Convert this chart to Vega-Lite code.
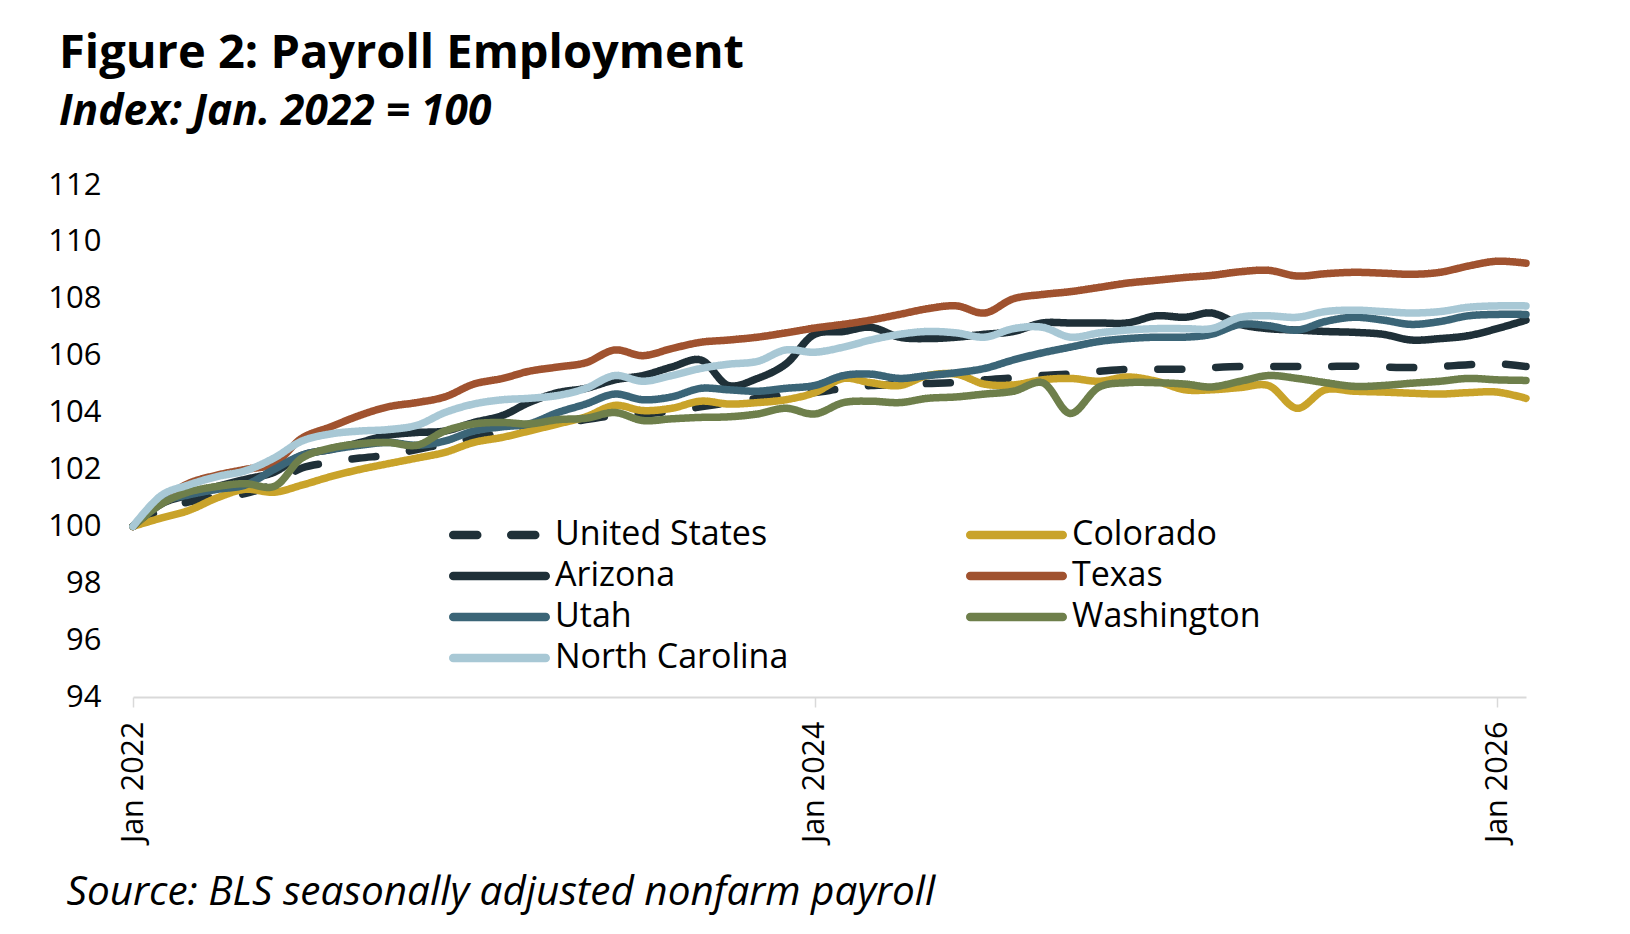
{
  "$schema": "https://vega.github.io/schema/vega-lite/v6.json",
  "width": 1393,
  "height": 512,
  "autosize": {"type": "none"},
  "padding": {"left": 133, "top": 185, "right": 104, "bottom": 237},
  "background": "white",
  "title": {
    "text": "Figure 2: Payroll Employment",
    "subtitle": "Index: Jan. 2022 = 100",
    "anchor": "start",
    "frame": "group",
    "dx": -74,
    "offset": 35,
    "font": "Open Sans",
    "fontSize": 47,
    "fontWeight": "bold",
    "color": "#000000",
    "subtitleFont": "Open Sans",
    "subtitleFontSize": 42.5,
    "subtitleFontWeight": "bold",
    "subtitleFontStyle": "italic",
    "subtitleColor": "#000000",
    "subtitlePadding": 13
  },
  "config": {
    "view": {"stroke": null},
    "font": "Open Sans"
  },
  "data": {
    "values": [
      {"series":"United States","date":"2022-01-01","value":100.0},
      {"series":"United States","date":"2022-02-01","value":100.6},
      {"series":"United States","date":"2022-03-01","value":100.85},
      {"series":"United States","date":"2022-04-01","value":101.05},
      {"series":"United States","date":"2022-05-01","value":101.15},
      {"series":"United States","date":"2022-06-01","value":101.5},
      {"series":"United States","date":"2022-07-01","value":102.05},
      {"series":"United States","date":"2022-08-01","value":102.25},
      {"series":"United States","date":"2022-09-01","value":102.4},
      {"series":"United States","date":"2022-10-01","value":102.5},
      {"series":"United States","date":"2022-11-01","value":102.7},
      {"series":"United States","date":"2022-12-01","value":102.9},
      {"series":"United States","date":"2023-01-01","value":103.1},
      {"series":"United States","date":"2023-02-01","value":103.3},
      {"series":"United States","date":"2023-03-01","value":103.45},
      {"series":"United States","date":"2023-04-01","value":103.6},
      {"series":"United States","date":"2023-05-01","value":103.75},
      {"series":"United States","date":"2023-06-01","value":103.9},
      {"series":"United States","date":"2023-07-01","value":103.95},
      {"series":"United States","date":"2023-08-01","value":104.05},
      {"series":"United States","date":"2023-09-01","value":104.2},
      {"series":"United States","date":"2023-10-01","value":104.35},
      {"series":"United States","date":"2023-11-01","value":104.5},
      {"series":"United States","date":"2023-12-01","value":104.6},
      {"series":"United States","date":"2024-01-01","value":104.7},
      {"series":"United States","date":"2024-02-01","value":104.85},
      {"series":"United States","date":"2024-03-01","value":104.95},
      {"series":"United States","date":"2024-04-01","value":104.98},
      {"series":"United States","date":"2024-05-01","value":105.02},
      {"series":"United States","date":"2024-06-01","value":105.06},
      {"series":"United States","date":"2024-07-01","value":105.15},
      {"series":"United States","date":"2024-08-01","value":105.22},
      {"series":"United States","date":"2024-09-01","value":105.3},
      {"series":"United States","date":"2024-10-01","value":105.36},
      {"series":"United States","date":"2024-11-01","value":105.45},
      {"series":"United States","date":"2024-12-01","value":105.52},
      {"series":"United States","date":"2025-01-01","value":105.52},
      {"series":"United States","date":"2025-02-01","value":105.53},
      {"series":"United States","date":"2025-03-01","value":105.58},
      {"series":"United States","date":"2025-04-01","value":105.62},
      {"series":"United States","date":"2025-05-01","value":105.62},
      {"series":"United States","date":"2025-06-01","value":105.62},
      {"series":"United States","date":"2025-07-01","value":105.62},
      {"series":"United States","date":"2025-08-01","value":105.63},
      {"series":"United States","date":"2025-09-01","value":105.6},
      {"series":"United States","date":"2025-10-01","value":105.58},
      {"series":"United States","date":"2025-11-01","value":105.62},
      {"series":"United States","date":"2025-12-01","value":105.68},
      {"series":"United States","date":"2026-01-01","value":105.72},
      {"series":"United States","date":"2026-02-01","value":105.62},

      {"series":"Colorado","date":"2022-01-01","value":100.0},
      {"series":"Colorado","date":"2022-02-01","value":100.3},
      {"series":"Colorado","date":"2022-03-01","value":100.55},
      {"series":"Colorado","date":"2022-04-01","value":101.0},
      {"series":"Colorado","date":"2022-05-01","value":101.3},
      {"series":"Colorado","date":"2022-06-01","value":101.2},
      {"series":"Colorado","date":"2022-07-01","value":101.45},
      {"series":"Colorado","date":"2022-08-01","value":101.75},
      {"series":"Colorado","date":"2022-09-01","value":102.0},
      {"series":"Colorado","date":"2022-10-01","value":102.2},
      {"series":"Colorado","date":"2022-11-01","value":102.4},
      {"series":"Colorado","date":"2022-12-01","value":102.6},
      {"series":"Colorado","date":"2023-01-01","value":102.95},
      {"series":"Colorado","date":"2023-02-01","value":103.13},
      {"series":"Colorado","date":"2023-03-01","value":103.35},
      {"series":"Colorado","date":"2023-04-01","value":103.6},
      {"series":"Colorado","date":"2023-05-01","value":103.85},
      {"series":"Colorado","date":"2023-06-01","value":104.25},
      {"series":"Colorado","date":"2023-07-01","value":104.07},
      {"series":"Colorado","date":"2023-08-01","value":104.15},
      {"series":"Colorado","date":"2023-09-01","value":104.4},
      {"series":"Colorado","date":"2023-10-01","value":104.3},
      {"series":"Colorado","date":"2023-11-01","value":104.35},
      {"series":"Colorado","date":"2023-12-01","value":104.45},
      {"series":"Colorado","date":"2024-01-01","value":104.7},
      {"series":"Colorado","date":"2024-02-01","value":105.2},
      {"series":"Colorado","date":"2024-03-01","value":105.05},
      {"series":"Colorado","date":"2024-04-01","value":104.95},
      {"series":"Colorado","date":"2024-05-01","value":105.3},
      {"series":"Colorado","date":"2024-06-01","value":105.35},
      {"series":"Colorado","date":"2024-07-01","value":105.0},
      {"series":"Colorado","date":"2024-08-01","value":104.97},
      {"series":"Colorado","date":"2024-09-01","value":105.15},
      {"series":"Colorado","date":"2024-10-01","value":105.2},
      {"series":"Colorado","date":"2024-11-01","value":105.1},
      {"series":"Colorado","date":"2024-12-01","value":105.25},
      {"series":"Colorado","date":"2025-01-01","value":105.1},
      {"series":"Colorado","date":"2025-02-01","value":104.8},
      {"series":"Colorado","date":"2025-03-01","value":104.8},
      {"series":"Colorado","date":"2025-04-01","value":104.88},
      {"series":"Colorado","date":"2025-05-01","value":104.95},
      {"series":"Colorado","date":"2025-06-01","value":104.15},
      {"series":"Colorado","date":"2025-07-01","value":104.8},
      {"series":"Colorado","date":"2025-08-01","value":104.75},
      {"series":"Colorado","date":"2025-09-01","value":104.72},
      {"series":"Colorado","date":"2025-10-01","value":104.68},
      {"series":"Colorado","date":"2025-11-01","value":104.65},
      {"series":"Colorado","date":"2025-12-01","value":104.7},
      {"series":"Colorado","date":"2026-01-01","value":104.72},
      {"series":"Colorado","date":"2026-02-01","value":104.5},

      {"series":"Arizona","date":"2022-01-01","value":100.0},
      {"series":"Arizona","date":"2022-02-01","value":100.8},
      {"series":"Arizona","date":"2022-03-01","value":101.1},
      {"series":"Arizona","date":"2022-04-01","value":101.4},
      {"series":"Arizona","date":"2022-05-01","value":101.65},
      {"series":"Arizona","date":"2022-06-01","value":101.9},
      {"series":"Arizona","date":"2022-07-01","value":102.5},
      {"series":"Arizona","date":"2022-08-01","value":102.7},
      {"series":"Arizona","date":"2022-09-01","value":102.95},
      {"series":"Arizona","date":"2022-10-01","value":103.2},
      {"series":"Arizona","date":"2022-11-01","value":103.3},
      {"series":"Arizona","date":"2022-12-01","value":103.35},
      {"series":"Arizona","date":"2023-01-01","value":103.65},
      {"series":"Arizona","date":"2023-02-01","value":103.9},
      {"series":"Arizona","date":"2023-03-01","value":104.35},
      {"series":"Arizona","date":"2023-04-01","value":104.7},
      {"series":"Arizona","date":"2023-05-01","value":104.85},
      {"series":"Arizona","date":"2023-06-01","value":105.15},
      {"series":"Arizona","date":"2023-07-01","value":105.3},
      {"series":"Arizona","date":"2023-08-01","value":105.6},
      {"series":"Arizona","date":"2023-09-01","value":105.85},
      {"series":"Arizona","date":"2023-10-01","value":104.95},
      {"series":"Arizona","date":"2023-11-01","value":105.2},
      {"series":"Arizona","date":"2023-12-01","value":105.7},
      {"series":"Arizona","date":"2024-01-01","value":106.75},
      {"series":"Arizona","date":"2024-02-01","value":106.85},
      {"series":"Arizona","date":"2024-03-01","value":107.0},
      {"series":"Arizona","date":"2024-04-01","value":106.65},
      {"series":"Arizona","date":"2024-05-01","value":106.6},
      {"series":"Arizona","date":"2024-06-01","value":106.65},
      {"series":"Arizona","date":"2024-07-01","value":106.75},
      {"series":"Arizona","date":"2024-08-01","value":106.85},
      {"series":"Arizona","date":"2024-09-01","value":107.15},
      {"series":"Arizona","date":"2024-10-01","value":107.15},
      {"series":"Arizona","date":"2024-11-01","value":107.15},
      {"series":"Arizona","date":"2024-12-01","value":107.15},
      {"series":"Arizona","date":"2025-01-01","value":107.4},
      {"series":"Arizona","date":"2025-02-01","value":107.35},
      {"series":"Arizona","date":"2025-03-01","value":107.5},
      {"series":"Arizona","date":"2025-04-01","value":107.1},
      {"series":"Arizona","date":"2025-05-01","value":106.95},
      {"series":"Arizona","date":"2025-06-01","value":106.9},
      {"series":"Arizona","date":"2025-07-01","value":106.85},
      {"series":"Arizona","date":"2025-08-01","value":106.82},
      {"series":"Arizona","date":"2025-09-01","value":106.75},
      {"series":"Arizona","date":"2025-10-01","value":106.55},
      {"series":"Arizona","date":"2025-11-01","value":106.6},
      {"series":"Arizona","date":"2025-12-01","value":106.7},
      {"series":"Arizona","date":"2026-01-01","value":106.95},
      {"series":"Arizona","date":"2026-02-01","value":107.25},

      {"series":"Texas","date":"2022-01-01","value":100.0},
      {"series":"Texas","date":"2022-02-01","value":100.9},
      {"series":"Texas","date":"2022-03-01","value":101.5},
      {"series":"Texas","date":"2022-04-01","value":101.8},
      {"series":"Texas","date":"2022-05-01","value":102.0},
      {"series":"Texas","date":"2022-06-01","value":102.2},
      {"series":"Texas","date":"2022-07-01","value":103.1},
      {"series":"Texas","date":"2022-08-01","value":103.5},
      {"series":"Texas","date":"2022-09-01","value":103.9},
      {"series":"Texas","date":"2022-10-01","value":104.2},
      {"series":"Texas","date":"2022-11-01","value":104.35},
      {"series":"Texas","date":"2022-12-01","value":104.55},
      {"series":"Texas","date":"2023-01-01","value":105.0},
      {"series":"Texas","date":"2023-02-01","value":105.2},
      {"series":"Texas","date":"2023-03-01","value":105.45},
      {"series":"Texas","date":"2023-04-01","value":105.6},
      {"series":"Texas","date":"2023-05-01","value":105.75},
      {"series":"Texas","date":"2023-06-01","value":106.2},
      {"series":"Texas","date":"2023-07-01","value":106.0},
      {"series":"Texas","date":"2023-08-01","value":106.25},
      {"series":"Texas","date":"2023-09-01","value":106.47},
      {"series":"Texas","date":"2023-10-01","value":106.55},
      {"series":"Texas","date":"2023-11-01","value":106.65},
      {"series":"Texas","date":"2023-12-01","value":106.8},
      {"series":"Texas","date":"2024-01-01","value":106.97},
      {"series":"Texas","date":"2024-02-01","value":107.1},
      {"series":"Texas","date":"2024-03-01","value":107.25},
      {"series":"Texas","date":"2024-04-01","value":107.45},
      {"series":"Texas","date":"2024-05-01","value":107.65},
      {"series":"Texas","date":"2024-06-01","value":107.75},
      {"series":"Texas","date":"2024-07-01","value":107.5},
      {"series":"Texas","date":"2024-08-01","value":108.0},
      {"series":"Texas","date":"2024-09-01","value":108.15},
      {"series":"Texas","date":"2024-10-01","value":108.25},
      {"series":"Texas","date":"2024-11-01","value":108.4},
      {"series":"Texas","date":"2024-12-01","value":108.55},
      {"series":"Texas","date":"2025-01-01","value":108.65},
      {"series":"Texas","date":"2025-02-01","value":108.75},
      {"series":"Texas","date":"2025-03-01","value":108.82},
      {"series":"Texas","date":"2025-04-01","value":108.95},
      {"series":"Texas","date":"2025-05-01","value":109.0},
      {"series":"Texas","date":"2025-06-01","value":108.8},
      {"series":"Texas","date":"2025-07-01","value":108.88},
      {"series":"Texas","date":"2025-08-01","value":108.93},
      {"series":"Texas","date":"2025-09-01","value":108.9},
      {"series":"Texas","date":"2025-10-01","value":108.86},
      {"series":"Texas","date":"2025-11-01","value":108.93},
      {"series":"Texas","date":"2025-12-01","value":109.15},
      {"series":"Texas","date":"2026-01-01","value":109.32},
      {"series":"Texas","date":"2026-02-01","value":109.25},

      {"series":"Utah","date":"2022-01-01","value":100.0},
      {"series":"Utah","date":"2022-02-01","value":100.85},
      {"series":"Utah","date":"2022-03-01","value":101.1},
      {"series":"Utah","date":"2022-04-01","value":101.3},
      {"series":"Utah","date":"2022-05-01","value":101.45},
      {"series":"Utah","date":"2022-06-01","value":102.0},
      {"series":"Utah","date":"2022-07-01","value":102.5},
      {"series":"Utah","date":"2022-08-01","value":102.7},
      {"series":"Utah","date":"2022-09-01","value":102.85},
      {"series":"Utah","date":"2022-10-01","value":102.95},
      {"series":"Utah","date":"2022-11-01","value":102.85},
      {"series":"Utah","date":"2022-12-01","value":103.0},
      {"series":"Utah","date":"2023-01-01","value":103.35},
      {"series":"Utah","date":"2023-02-01","value":103.5},
      {"series":"Utah","date":"2023-03-01","value":103.6},
      {"series":"Utah","date":"2023-04-01","value":104.0},
      {"series":"Utah","date":"2023-05-01","value":104.3},
      {"series":"Utah","date":"2023-06-01","value":104.65},
      {"series":"Utah","date":"2023-07-01","value":104.45},
      {"series":"Utah","date":"2023-08-01","value":104.55},
      {"series":"Utah","date":"2023-09-01","value":104.85},
      {"series":"Utah","date":"2023-10-01","value":104.8},
      {"series":"Utah","date":"2023-11-01","value":104.75},
      {"series":"Utah","date":"2023-12-01","value":104.85},
      {"series":"Utah","date":"2024-01-01","value":104.95},
      {"series":"Utah","date":"2024-02-01","value":105.3},
      {"series":"Utah","date":"2024-03-01","value":105.35},
      {"series":"Utah","date":"2024-04-01","value":105.2},
      {"series":"Utah","date":"2024-05-01","value":105.3},
      {"series":"Utah","date":"2024-06-01","value":105.4},
      {"series":"Utah","date":"2024-07-01","value":105.55},
      {"series":"Utah","date":"2024-08-01","value":105.85},
      {"series":"Utah","date":"2024-09-01","value":106.1},
      {"series":"Utah","date":"2024-10-01","value":106.3},
      {"series":"Utah","date":"2024-11-01","value":106.5},
      {"series":"Utah","date":"2024-12-01","value":106.6},
      {"series":"Utah","date":"2025-01-01","value":106.65},
      {"series":"Utah","date":"2025-02-01","value":106.65},
      {"series":"Utah","date":"2025-03-01","value":106.75},
      {"series":"Utah","date":"2025-04-01","value":107.1},
      {"series":"Utah","date":"2025-05-01","value":107.05},
      {"series":"Utah","date":"2025-06-01","value":106.9},
      {"series":"Utah","date":"2025-07-01","value":107.2},
      {"series":"Utah","date":"2025-08-01","value":107.35},
      {"series":"Utah","date":"2025-09-01","value":107.25},
      {"series":"Utah","date":"2025-10-01","value":107.1},
      {"series":"Utah","date":"2025-11-01","value":107.2},
      {"series":"Utah","date":"2025-12-01","value":107.4},
      {"series":"Utah","date":"2026-01-01","value":107.45},
      {"series":"Utah","date":"2026-02-01","value":107.45},

      {"series":"Washington","date":"2022-01-01","value":100.0},
      {"series":"Washington","date":"2022-02-01","value":100.8},
      {"series":"Washington","date":"2022-03-01","value":101.2},
      {"series":"Washington","date":"2022-04-01","value":101.4},
      {"series":"Washington","date":"2022-05-01","value":101.5},
      {"series":"Washington","date":"2022-06-01","value":101.4},
      {"series":"Washington","date":"2022-07-01","value":102.4},
      {"series":"Washington","date":"2022-08-01","value":102.75},
      {"series":"Washington","date":"2022-09-01","value":102.9},
      {"series":"Washington","date":"2022-10-01","value":102.95},
      {"series":"Washington","date":"2022-11-01","value":102.85},
      {"series":"Washington","date":"2022-12-01","value":103.35},
      {"series":"Washington","date":"2023-01-01","value":103.6},
      {"series":"Washington","date":"2023-02-01","value":103.65},
      {"series":"Washington","date":"2023-03-01","value":103.6},
      {"series":"Washington","date":"2023-04-01","value":103.75},
      {"series":"Washington","date":"2023-05-01","value":103.8},
      {"series":"Washington","date":"2023-06-01","value":104.0},
      {"series":"Washington","date":"2023-07-01","value":103.72},
      {"series":"Washington","date":"2023-08-01","value":103.78},
      {"series":"Washington","date":"2023-09-01","value":103.83},
      {"series":"Washington","date":"2023-10-01","value":103.85},
      {"series":"Washington","date":"2023-11-01","value":103.95},
      {"series":"Washington","date":"2023-12-01","value":104.15},
      {"series":"Washington","date":"2024-01-01","value":103.95},
      {"series":"Washington","date":"2024-02-01","value":104.35},
      {"series":"Washington","date":"2024-03-01","value":104.4},
      {"series":"Washington","date":"2024-04-01","value":104.35},
      {"series":"Washington","date":"2024-05-01","value":104.5},
      {"series":"Washington","date":"2024-06-01","value":104.55},
      {"series":"Washington","date":"2024-07-01","value":104.65},
      {"series":"Washington","date":"2024-08-01","value":104.75},
      {"series":"Washington","date":"2024-09-01","value":105.05},
      {"series":"Washington","date":"2024-10-01","value":103.97},
      {"series":"Washington","date":"2024-11-01","value":104.9},
      {"series":"Washington","date":"2024-12-01","value":105.05},
      {"series":"Washington","date":"2025-01-01","value":105.05},
      {"series":"Washington","date":"2025-02-01","value":105.0},
      {"series":"Washington","date":"2025-03-01","value":104.9},
      {"series":"Washington","date":"2025-04-01","value":105.1},
      {"series":"Washington","date":"2025-05-01","value":105.3},
      {"series":"Washington","date":"2025-06-01","value":105.2},
      {"series":"Washington","date":"2025-07-01","value":105.05},
      {"series":"Washington","date":"2025-08-01","value":104.92},
      {"series":"Washington","date":"2025-09-01","value":104.95},
      {"series":"Washington","date":"2025-10-01","value":105.03},
      {"series":"Washington","date":"2025-11-01","value":105.1},
      {"series":"Washington","date":"2025-12-01","value":105.2},
      {"series":"Washington","date":"2026-01-01","value":105.15},
      {"series":"Washington","date":"2026-02-01","value":105.13},

      {"series":"North Carolina","date":"2022-01-01","value":100.0},
      {"series":"North Carolina","date":"2022-02-01","value":101.1},
      {"series":"North Carolina","date":"2022-03-01","value":101.45},
      {"series":"North Carolina","date":"2022-04-01","value":101.75},
      {"series":"North Carolina","date":"2022-05-01","value":101.95},
      {"series":"North Carolina","date":"2022-06-01","value":102.4},
      {"series":"North Carolina","date":"2022-07-01","value":103.0},
      {"series":"North Carolina","date":"2022-08-01","value":103.25},
      {"series":"North Carolina","date":"2022-09-01","value":103.35},
      {"series":"North Carolina","date":"2022-10-01","value":103.4},
      {"series":"North Carolina","date":"2022-11-01","value":103.55},
      {"series":"North Carolina","date":"2022-12-01","value":104.0},
      {"series":"North Carolina","date":"2023-01-01","value":104.3},
      {"series":"North Carolina","date":"2023-02-01","value":104.45},
      {"series":"North Carolina","date":"2023-03-01","value":104.5},
      {"series":"North Carolina","date":"2023-04-01","value":104.6},
      {"series":"North Carolina","date":"2023-05-01","value":104.85},
      {"series":"North Carolina","date":"2023-06-01","value":105.3},
      {"series":"North Carolina","date":"2023-07-01","value":105.1},
      {"series":"North Carolina","date":"2023-08-01","value":105.3},
      {"series":"North Carolina","date":"2023-09-01","value":105.55},
      {"series":"North Carolina","date":"2023-10-01","value":105.7},
      {"series":"North Carolina","date":"2023-11-01","value":105.8},
      {"series":"North Carolina","date":"2023-12-01","value":106.2},
      {"series":"North Carolina","date":"2024-01-01","value":106.12},
      {"series":"North Carolina","date":"2024-02-01","value":106.3},
      {"series":"North Carolina","date":"2024-03-01","value":106.55},
      {"series":"North Carolina","date":"2024-04-01","value":106.75},
      {"series":"North Carolina","date":"2024-05-01","value":106.85},
      {"series":"North Carolina","date":"2024-06-01","value":106.8},
      {"series":"North Carolina","date":"2024-07-01","value":106.65},
      {"series":"North Carolina","date":"2024-08-01","value":106.95},
      {"series":"North Carolina","date":"2024-09-01","value":107.0},
      {"series":"North Carolina","date":"2024-10-01","value":106.65},
      {"series":"North Carolina","date":"2024-11-01","value":106.8},
      {"series":"North Carolina","date":"2024-12-01","value":106.9},
      {"series":"North Carolina","date":"2025-01-01","value":106.95},
      {"series":"North Carolina","date":"2025-02-01","value":106.95},
      {"series":"North Carolina","date":"2025-03-01","value":106.95},
      {"series":"North Carolina","date":"2025-04-01","value":107.35},
      {"series":"North Carolina","date":"2025-05-01","value":107.4},
      {"series":"North Carolina","date":"2025-06-01","value":107.35},
      {"series":"North Carolina","date":"2025-07-01","value":107.55},
      {"series":"North Carolina","date":"2025-08-01","value":107.6},
      {"series":"North Carolina","date":"2025-09-01","value":107.55},
      {"series":"North Carolina","date":"2025-10-01","value":107.5},
      {"series":"North Carolina","date":"2025-11-01","value":107.55},
      {"series":"North Carolina","date":"2025-12-01","value":107.7},
      {"series":"North Carolina","date":"2026-01-01","value":107.75},
      {"series":"North Carolina","date":"2026-02-01","value":107.75}
    ]
  },
  "mark": {
    "type": "line",
    "interpolate": "catmull-rom",
    "strokeWidth": 7.5,
    "strokeCap": "round",
    "strokeJoin": "round"
  },
  "encoding": {
    "x": {
      "field": "date",
      "type": "temporal",
      "scale": {
        "type": "utc",
        "domain": [
          {"year": 2022, "month": 1, "date": 1, "utc": true},
          {"year": 2026, "month": 2, "date": 1, "utc": true}
        ]
      },
      "axis": {
        "values": [
          {"year": 2022, "month": 1, "date": 1, "utc": true},
          {"year": 2024, "month": 1, "date": 1, "utc": true},
          {"year": 2026, "month": 1, "date": 1, "utc": true}
        ],
        "format": "%b %Y",
        "labelAngle": -90,
        "labelFontSize": 30.5,
        "labelColor": "#000000",
        "labelPadding": 14,
        "labelFont": "Open Sans",
        "domainColor": "#d9d9d9",
        "domainWidth": 2,
        "tickColor": "#d9d9d9",
        "tickWidth": 1.5,
        "tickSize": 10,
        "grid": false,
        "labelFlush": false,
        "labelOverlap": false,
        "title": "Source: BLS seasonally adjusted nonfarm payroll",
        "titleFont": "Open Sans",
        "titleFontSize": 40.5,
        "titleFontWeight": "normal",
        "titleFontStyle": "italic",
        "titleColor": "#000000",
        "titleAnchor": "start",
        "titleAlign": "left",
        "titleBaseline": "alphabetic",
        "titleX": -67,
        "titleY": 207
      }
    },
    "y": {
      "field": "value",
      "type": "quantitative",
      "scale": {"domain": [94, 112], "nice": false, "zero": false},
      "axis": {
        "values": [94, 96, 98, 100, 102, 104, 106, 108, 110, 112],
        "domain": false,
        "ticks": false,
        "tickSize": 0,
        "grid": false,
        "labelFontSize": 31,
        "labelColor": "#000000",
        "labelFont": "Open Sans",
        "labelPadding": 32,
        "title": null
      }
    },
    "color": {
      "field": "series",
      "type": "nominal",
      "scale": {
        "domain": ["United States", "Colorado", "Arizona", "Texas", "Utah", "Washington", "North Carolina"],
        "range": ["#1f3038", "#c9a32a", "#1f3038", "#a0522f", "#3b6577", "#6e7f4b", "#a8c8d5"]
      },
      "legend": {
        "title": null,
        "orient": "none",
        "direction": "horizontal",
        "legendX": 316,
        "legendY": 334,
        "columns": 2,
        "columnPadding": 177,
        "rowPadding": 7,
        "clipHeight": 32,
        "symbolType": "stroke",
        "symbolSize": 8556,
        "symbolStrokeWidth": 8.5,
        "labelFontSize": 34,
        "labelFont": "Open Sans",
        "labelColor": "#000000",
        "labelOffset": 5,
        "labelLimit": 400,
        "encode": {"symbols": {"update": {"strokeCap": {"value": "round"}}}}
      }
    },
    "strokeDash": {
      "field": "series",
      "type": "nominal",
      "scale": {
        "domain": ["United States", "Colorado", "Arizona", "Texas", "Utah", "Washington", "North Carolina"],
        "range": [[24, 34], [1, 0], [1, 0], [1, 0], [1, 0], [1, 0], [1, 0]]
      },
      "legend": {
        "title": null,
        "orient": "none",
        "direction": "horizontal",
        "legendX": 316,
        "legendY": 334,
        "columns": 2,
        "columnPadding": 177,
        "rowPadding": 7,
        "clipHeight": 32,
        "symbolType": "stroke",
        "symbolSize": 8556,
        "symbolStrokeWidth": 8.5,
        "labelFontSize": 34,
        "labelFont": "Open Sans",
        "labelColor": "#000000",
        "labelOffset": 5,
        "labelLimit": 400,
        "encode": {"symbols": {"update": {"strokeCap": {"value": "round"}}}}
      }
    }
  }
}
